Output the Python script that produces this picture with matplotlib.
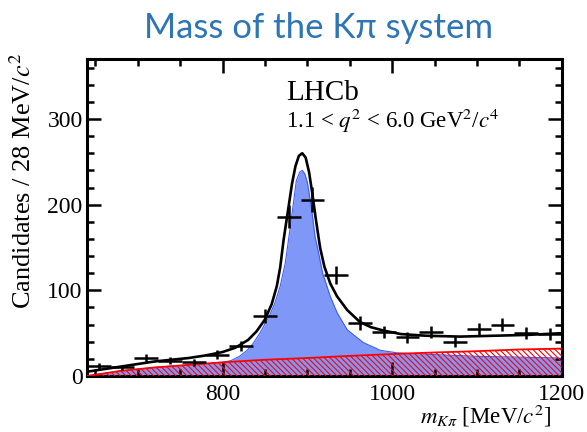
import numpy as np
import matplotlib
matplotlib.use('Agg')
import matplotlib.pyplot as plt

# binned data (28 MeV/c^2 bins)
bin_centres = [654, 682, 710, 738, 766, 794, 822, 850, 878, 906,
               934, 962, 990, 1018, 1046, 1074, 1102, 1130, 1158, 1186]
counts = [12, 10, 21, 18, 16, 25, 35, 70, 186, 206,
          118, 62, 51, 45, 51, 40, 55, 60, 50, 49]
bin_half_width = 14

# total fit (black)
fit_m = [640, 660, 680, 700, 720, 740, 760, 780, 800, 815, 830, 840, 850, 858,
         864, 868, 872, 877, 882, 886, 890, 894, 898, 902, 906, 910, 915, 920,
         927, 935, 947, 962, 975, 990, 1010, 1040, 1080, 1120, 1160, 1200]
fit_total = [5, 8, 11, 14, 17, 19, 21, 24, 28, 33, 42, 52, 66, 84,
             105, 127, 159, 192, 225, 245, 257, 260, 255, 238, 212, 183, 150, 128,
             108, 93, 77, 63, 57, 53, 49, 47, 46, 47, 48, 50]

# signal component (blue fill)
sig_m = [640, 660, 680, 700, 720, 760, 800, 810, 820, 829, 836, 844, 850, 856,
         862, 868, 874, 880, 884, 887, 891, 894, 897, 900, 905, 909, 913, 918,
         927, 935, 947, 966, 986, 1006, 1050, 1100, 1150, 1200]
sig_val = [0, 3, 6, 8, 10, 13, 16, 18, 23, 30, 38, 50, 61, 72,
           86, 105, 132, 175, 205, 228, 238, 240, 236, 226, 195, 163, 145, 120,
           93, 74, 54, 39, 30, 27, 25, 23, 22, 21]

# background component (red, hatched)
bkg_m = [640, 660, 680, 700, 720, 760, 800, 850, 900, 950, 1009, 1050, 1100, 1150, 1200]
bkg_val = [0, 3, 6, 8, 10, 13, 16, 19, 21, 23.5, 26, 27.5, 29, 31, 32]

plt.rcParams['font.family'] = ['Liberation Serif', 'DejaVu Serif']
plt.rcParams['mathtext.fontset'] = 'stix'
plt.rcParams['hatch.linewidth'] = 0.8
plt.rcParams['hatch.color'] = 'red'

fig = plt.figure(figsize=(5.87, 4.32), dpi=100)
ax = fig.add_axes([0.148, 0.1296, 0.809, 0.7338])

ax.fill_between(sig_m, 0, sig_val, color='#7f97f7', lw=0, zorder=1)
ax.plot(sig_m, sig_val, color='#3a5cff', lw=0.8, zorder=2)
ax.fill_between(bkg_m, 0, bkg_val, facecolor='none', edgecolor='red',
                hatch='\\\\\\\\\\\\', lw=0, zorder=3)
ax.plot(bkg_m, bkg_val, color='red', lw=1.3, zorder=4)
ax.plot(fit_m, fit_total, color='black', lw=1.9, zorder=5)

yerr = np.sqrt(counts)
ax.errorbar(bin_centres, counts, xerr=bin_half_width, yerr=yerr, fmt='none',
            ecolor='black', elinewidth=1.8, capsize=0, zorder=6)

ax.set_xlim(640, 1200)
ax.set_ylim(0, 370)
ax.set_xticks([800, 1000, 1200])
ax.set_xticks(np.arange(650, 1201, 50), minor=True)
ax.set_yticks([0, 100, 200, 300])
ax.set_yticks(np.arange(0, 371, 20), minor=True)
ax.tick_params(which='both', direction='in', top=True, right=True, width=1.8)
ax.tick_params(which='major', length=10, labelsize=17)
ax.tick_params(which='minor', length=5)
ax.tick_params(axis='x', pad=6)
ax.tick_params(axis='y', pad=3)
for s in ax.spines.values():
    s.set_linewidth(2.2)

ax.set_ylabel('Candidates / 28 MeV/$c^{2}$', fontsize=19)
ax.yaxis.set_label_coords(-0.108, 0.615)
ax.set_xlabel(r'$m_{K\pi}$ [MeV/$c^{2}$]', fontsize=16.5)
ax.xaxis.set_label_coords(0.978, -0.085)
ax.xaxis.label.set_ha('right')
ax.xaxis.label.set_va('top')

ax.text(0.42, 0.87, 'LHCb', transform=ax.transAxes, fontsize=21)
ax.text(0.42, 0.782, '1.1 < $q^{2}$ < 6.0 GeV$^{2}$/$c^{4}$',
        transform=ax.transAxes, fontsize=16.5)

fig.text(0.543, 0.935, 'Mass of the K\u03c0 system', color='#2e75b6',
         fontsize=25, family=['Lato', 'DejaVu Sans'], ha='center', va='center')

fig.savefig('out.png', dpi=100, facecolor='white')
